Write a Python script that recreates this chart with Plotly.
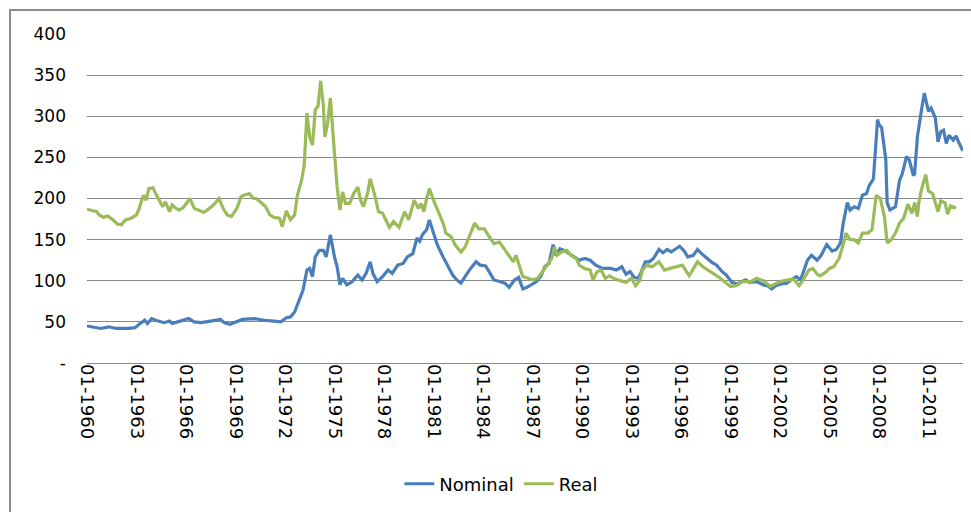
import plotly.graph_objects as go

# ---- Data (month, index value) ----
nominal_dates = [
    "1960-01","1960-11","1961-05","1961-10","1962-07","1962-12","1963-03","1963-07","1963-09","1963-12",
    "1964-03","1964-09","1965-01","1965-03","1965-07","1965-11","1966-03","1966-07","1966-12","1967-07",
    "1968-02","1968-05","1968-09","1968-12","1969-06","1970-03","1970-10","1971-05","1971-10","1972-02",
    "1972-05","1972-08","1972-11","1973-02","1973-05","1973-07","1973-09","1973-11","1974-02","1974-05",
    "1974-07","1974-10","1975-01","1975-03","1975-05","1975-07","1975-10","1976-02","1976-06","1976-09",
    "1976-12","1977-03","1977-05","1977-08","1977-12","1978-04","1978-07","1978-11","1979-03","1979-06",
    "1979-10","1980-01","1980-03","1980-05","1980-08","1980-10","1981-01","1981-04","1981-08","1981-11",
    "1982-03","1982-06","1982-09","1982-12","1983-04","1983-08","1983-11","1984-03","1984-06","1984-09",
    "1985-01","1985-05","1985-08","1985-12","1986-03","1986-06","1986-09","1986-12","1987-04","1987-07",
    "1987-10","1988-01","1988-04","1988-06","1988-09","1988-12","1989-04","1989-08","1989-11","1990-03",
    "1990-07","1990-11","1991-04","1991-10","1992-02","1992-06","1992-09","1992-12","1993-03","1993-06",
    "1993-08","1993-11","1994-02","1994-05","1994-09","1994-12","1995-03","1995-06","1995-09","1995-12",
    "1996-03","1996-06","1996-10","1997-01","1997-04","1997-08","1997-11","1998-03","1998-07","1998-10",
    "1999-02","1999-06","1999-09","1999-12","2000-03","2000-08","2001-01","2001-04","2001-07","2001-10",
    "2002-02","2002-06","2002-09","2003-01","2003-04","2003-06","2003-09","2003-12","2004-04","2004-07",
    "2004-11","2005-03","2005-06","2005-09","2005-11","2006-02","2006-04","2006-07","2006-10","2007-01",
    "2007-04","2007-06","2007-09","2007-12","2008-01","2008-03","2008-06","2008-07","2008-09","2009-01",
    "2009-04","2009-06","2009-09","2009-11","2010-02","2010-03","2010-05","2010-08","2010-10","2011-01",
    "2011-03","2011-06","2011-08","2011-10","2011-12","2012-02","2012-04","2012-07","2012-09","2012-12",
    "2013-02",
]
nominal_values = [
    45, 42, 44, 42, 42, 43, 47, 52, 48, 54,
    52, 49, 51, 48, 50, 52, 54, 50, 49, 51,
    53, 49, 47, 49, 53, 54, 52, 51, 50, 55,
    56, 62, 74, 88, 113, 115, 105, 129, 137, 137,
    129, 156, 129, 117, 95, 103, 95, 99, 107, 101,
    109, 123, 109, 99, 105, 113, 109, 119, 121, 129,
    133, 152, 148, 156, 162, 174, 158, 143, 129, 119,
    107, 101, 97, 105, 115, 123, 119, 118, 109, 101,
    99, 97, 92, 101, 104, 90, 92, 95, 99, 105,
    117, 121, 144, 131, 139, 137, 133, 129, 125, 127,
    125, 119, 115, 115, 113, 117, 108, 111, 104, 103,
    110, 123, 123, 127, 138, 134, 138, 135, 139, 142,
    137, 129, 131, 138, 133, 127, 123, 119, 111, 107,
    98, 96, 99, 101, 98, 99, 95, 94, 90, 94,
    96, 97, 101, 105, 101, 111, 125, 131, 125, 131,
    144, 136, 138, 146, 170, 195, 186, 190, 188, 204,
    206, 216, 224, 296, 290, 286, 247, 195, 186, 190,
    222, 230, 251, 247, 228, 230, 275, 308, 328, 306,
    310, 298, 269, 281, 283, 267, 277, 271, 276, 265,
    258,
]

real_dates = [
    "1960-01","1960-04","1960-08","1960-10","1961-01","1961-04","1961-08","1961-11","1962-02","1962-05",
    "1962-09","1963-01","1963-03","1963-06","1963-08","1963-10","1964-01","1964-03","1964-05","1964-08",
    "1964-10","1965-01","1965-03","1965-05","1965-08","1965-11","1966-04","1966-07","1966-10","1967-02",
    "1967-06","1967-09","1968-01","1968-04","1968-07","1968-10","1969-02","1969-05","1969-07","1969-11",
    "1970-02","1970-04","1970-07","1970-11","1971-02","1971-05","1971-09","1971-11","1972-02","1972-05",
    "1972-08","1972-10","1973-01","1973-03","1973-05","1973-07","1973-09","1973-11","1974-01","1974-03",
    "1974-05","1974-06","1974-08","1974-10","1975-01","1975-03","1975-05","1975-07","1975-09","1975-12",
    "1976-03","1976-06","1976-08","1976-10","1977-01","1977-03","1977-06","1977-09","1977-12","1978-05",
    "1978-08","1978-12","1979-04","1979-07","1979-11","1980-02","1980-04","1980-06","1980-08","1980-10",
    "1981-01","1981-04","1981-08","1981-10","1982-02","1982-05","1982-09","1982-12","1983-03","1983-07",
    "1983-10","1984-02","1984-05","1984-09","1985-01","1985-05","1985-08","1985-11","1986-01","1986-04",
    "1986-06","1986-10","1987-01","1987-05","1987-09","1987-12","1988-03","1988-05","1988-07","1988-10",
    "1989-02","1989-05","1989-09","1989-11","1990-03","1990-07","1990-09","1990-12","1991-03","1991-06",
    "1991-09","1992-01","1992-05","1992-09","1993-01","1993-04","1993-07","1993-09","1993-12","1994-04",
    "1994-09","1995-01","1995-05","1995-09","1996-02","1996-07","1997-01","1997-05","1997-09","1998-01",
    "1998-05","1999-01","1999-05","1999-10","2000-04","2000-08","2001-01","2001-06","2002-01","2002-07",
    "2002-11","2003-03","2003-06","2003-10","2004-01","2004-04","2004-06","2004-10","2005-01","2005-04",
    "2005-08","2005-11","2006-01","2006-04","2006-07","2006-10","2007-01","2007-05","2007-08","2007-11",
    "2008-02","2008-05","2008-07","2008-10","2009-01","2009-04","2009-07","2009-10","2010-01","2010-03",
    "2010-05","2010-06","2010-08","2010-11","2011-01","2011-04","2011-08","2011-10","2012-01","2012-03",
    "2012-05","2012-08","2012-09",
]
real_values = [
    187, 186, 184, 180, 177, 179, 174, 169, 168, 174,
    176, 180, 188, 204, 198, 212, 213, 206, 200, 190,
    196, 184, 192, 189, 186, 189, 200, 188, 186, 183,
    188, 192, 200, 188, 180, 178, 188, 202, 204, 206,
    200, 200, 196, 190, 180, 177, 176, 166, 185, 174,
    180, 204, 222, 240, 304, 275, 265, 308, 312, 343,
    312, 275, 291, 322, 255, 214, 186, 208, 194, 194,
    206, 214, 198, 190, 206, 224, 206, 184, 182, 165,
    172, 165, 184, 174, 198, 188, 194, 184, 200, 212,
    198, 186, 170, 158, 153, 143, 135, 141, 153, 170,
    163, 163, 155, 145, 147, 137, 129, 123, 131, 117,
    105, 103, 101, 103, 113, 121, 127, 141, 131, 135,
    137, 131, 127, 119, 115, 113, 101, 111, 113, 103,
    106, 102, 100, 98, 103, 94, 100, 113, 119, 117,
    123, 113, 115, 117, 119, 106, 123, 117, 113, 108,
    104, 93, 94, 99, 99, 103, 100, 93, 99, 101,
    102, 94, 101, 113, 115, 108, 106, 110, 115, 117,
    127, 144, 158, 150, 150, 146, 158, 158, 162, 204,
    200, 178, 146, 150, 158, 170, 176, 193, 182, 195,
    178, 195, 211, 229, 209, 206, 184, 197, 195, 181,
    191, 189, 188,
]

y_tick_vals = [0, 50, 100, 150, 200, 250, 300, 350, 400]
y_tick_text = ["-", "50", "100", "150", "200", "250", "300", "350", "400"]

BLUE = "#4A7EBB"
GREEN = "#9BBB59"
GRID = "#888888"
FONT = "DejaVu Sans"

fig = go.Figure()
fig.add_trace(go.Scatter(
    x=[d + "-01" for d in nominal_dates], y=nominal_values, name="Nominal",
    mode="lines", line=dict(color=BLUE, width=3.2),
))
fig.add_trace(go.Scatter(
    x=[d + "-01" for d in real_dates], y=real_values, name="Real",
    mode="lines", line=dict(color=GREEN, width=3.2),
))

fig.update_layout(
    width=971, height=512,
    margin=dict(l=87, r=8, t=34, b=149),
    paper_bgcolor="white", plot_bgcolor="white",
    font=dict(family=FONT, size=17, color="#000000"),
    showlegend=True,
    legend=dict(
        orientation="h", x=0.473, y=-0.368, xanchor="center", yanchor="middle",
        font=dict(family=FONT, size=18, color="#000000"),
        bgcolor="rgba(0,0,0,0)",
    ),
    xaxis=dict(
        type="date",
        range=["1960-01-01", "2013-02-04"],
        tick0="1960-01-01", dtick="M36",
        tickformat="%m-%Y", tickangle=90,
        showgrid=False, zeroline=False,
        showline=False, ticks="",
        tickfont=dict(family=FONT, size=18, color="#000000"),
    ),
    yaxis=dict(
        range=[0, 400],
        tickvals=y_tick_vals, ticktext=y_tick_text,
        showgrid=True, gridcolor=GRID, gridwidth=1,
        zeroline=True, zerolinecolor=GRID, zerolinewidth=1,
        showline=False, ticks="",
        ticklabelstandoff=20,
        tickfont=dict(family=FONT, size=17, color="#000000"),
    ),
    shapes=[
        dict(type="rect", xref="paper", yref="paper",
             x0=-0.0879, x1=1.2, y0=-0.6, y1=1.073,
             line=dict(color="#8C8C8C", width=2), fillcolor="rgba(0,0,0,0)",
             layer="below"),
    ],
)

fig.write_html("out.html")
